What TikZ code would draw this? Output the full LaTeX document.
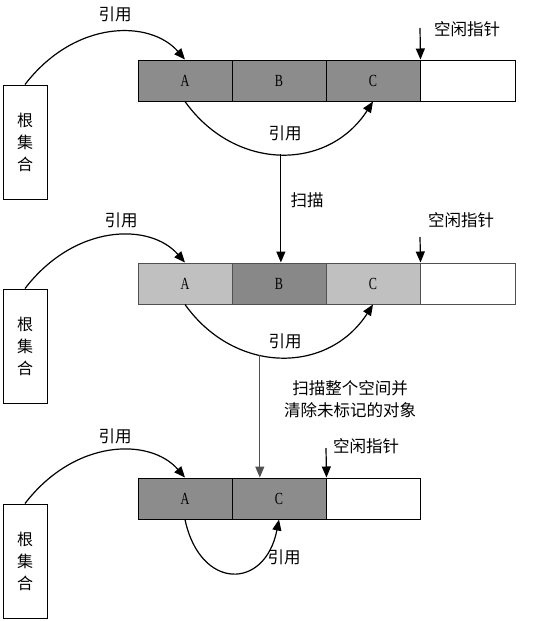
\documentclass[tikz,border=0pt]{standalone}
\usepackage{fontspec}
\setmainfont{Liberation Serif}
\newfontfamily\cjk{Noto Sans CJK SC}
\newfontfamily\narrowserif[FakeStretch=0.72]{Liberation Serif}
\usetikzlibrary{arrows.meta,calc}
\definecolor{darkcell}{HTML}{8C8C8C}
\definecolor{midcell}{HTML}{888888}
\definecolor{lightcell}{HTML}{C0C0C0}
\definecolor{bordergray}{HTML}{505050}
\begin{document}
\begin{tikzpicture}[x=1pt,y=-1pt,
  cell/.style={draw, minimum width=94pt, minimum height=41pt, inner sep=0pt,
    line width=1pt, font=\narrowserif\fontsize{17}{17}\selectfont},
  rootbox/.style={draw, line width=1pt, minimum width=44pt, minimum height=114pt,
    inner sep=0pt, align=center, font=\cjk\fontsize{16}{22}\selectfont},
  lbl/.style={inner sep=0pt, align=center, font=\cjk\fontsize{16.5}{22}\selectfont},
  ref/.style={-{Triangle[length=11pt,width=9pt]}, line width=1.2pt}]
\useasboundingbox (0,0) rectangle (541,621);

% ---------- row 1 ----------
\node[cell, fill=darkcell] (a1) at (185,80.5) {A};
\node[cell, fill=darkcell] (b1) at (279,80.5) {B};
\node[cell, fill=darkcell] (c1) at (373,80.5) {C};
\node[cell, fill=white, minimum width=95pt] (e1) at (468,80.5) {};
\node[rootbox] (r1) at (25,142) {根\\集\\合};
\draw[ref] (r1.north) .. controls +(50,-65) and +(-35,-40) .. (a1.north);
\node[lbl] (l1a) at (115,14) {引用};
\draw[ref] (a1.south) .. controls +(50,70) and +(-45,70) .. (c1.south) coordinate[pos=0.5] (m1);
\node[lbl] (l1b) at (285,133) {引用};
\coordinate (fp1) at (420,28);
\draw[ref] (fp1) -- (c1.north east);
\node[lbl] (p1) at (467,29) {空闲指针};

% ---------- row 2 ----------
\node[cell, draw=bordergray, fill=lightcell] (a2) at (185,283.5) {A};
\node[cell, draw=bordergray, fill=midcell] (b2) at (279,283.5) {B};
\node[cell, draw=bordergray, fill=lightcell] (c2) at (373,283.5) {C};
\node[cell, draw=bordergray, fill=white, minimum width=95pt] (e2) at (468,283.5) {};
\node[rootbox] (r2) at (25,346) {根\\集\\合};
\draw[ref] (m1) -- (m1 |- b2.north);
\node[lbl] (s1) at (307,200) {扫描};
\draw[ref] (r2.north) .. controls +(50,-65) and +(-35,-40) .. (a2.north);
\node[lbl] (l2a) at (121,220) {引用};
\draw[ref] (a2.south) .. controls +(50,70) and +(-45,70) .. (c2.south) coordinate[pos=0.4] (m2);
\node[lbl] (l2b) at (285,341) {引用};
\coordinate (fp2) at (420,237);
\draw[ref] (fp2) -- (c2.north east);
\node[lbl] (p2) at (461,220) {空闲指针};

% ---------- row 3 ----------
\node[cell, fill=darkcell] (a3) at (185,498.5) {A};
\node[cell, fill=darkcell] (c3) at (279,498.5) {C};
\node[cell, fill=white] (e3) at (373,498.5) {};
\node[rootbox] (r3) at (25,561) {根\\集\\合};
\draw[ref, draw=bordergray, fill=bordergray] (m2) -- (m2 |- c3.north);
\node[lbl] (s2) at (350,399) {扫描整个空间并\\清除未标记的对象};
\draw[ref] (r3.north) .. controls +(50,-65) and +(-35,-40) .. (a3.north);
\node[lbl] (l3a) at (115,436) {引用};
\draw[ref] (a3.south) .. controls +(15,71) and +(-14,71) .. (c3.south);
\node[lbl] (l3b) at (284,557) {引用};
\coordinate (fp3) at (326,448);
\draw[ref] (fp3) -- (c3.north east);
\node[lbl] (p3) at (366,446) {空闲指针};
\end{tikzpicture}
\end{document}
